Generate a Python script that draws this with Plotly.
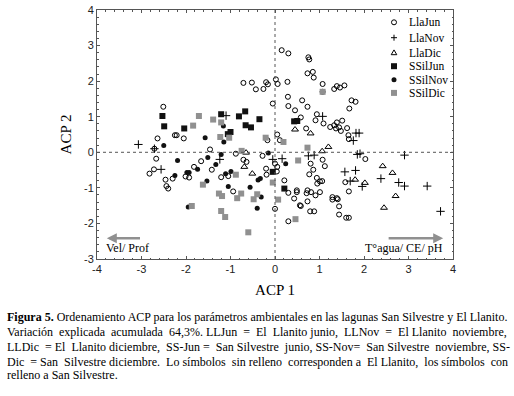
import plotly.graph_objects as go

# ---- data (ACP 1, ACP 2) ----
llajun_x = [0.15, 0.30, 0.75, 0.77, 0.73, 0.85, 0.87, -0.71, -0.52, -0.43, -0.26, -0.20, -0.16, 0.02, 0.06, 0.28,
            1.07, 1.07, 1.33, 1.39, 1.46, 1.56, -0.05, 0.29, 0.30, 0.45, 0.61, 0.73, 0.94, 0.91, 1.09, 1.24, 1.33,
            1.39, 1.37, 1.44, 1.51, 1.48, 1.62, 1.72, 1.81, 1.67, 1.65, 1.66, 0.58, 0.70, 0.05, 0.11, -0.17, -2.51,
            -2.25, -2.21, -2.05, -2.64, -2.71, -1.46, -0.88, -2.67, -1.66, -1.42, -2.72, -2.82, -2.30, -2.46, -2.44,
            -2.40, -2.01, -1.93, -1.82, -1.05, -1.21, -0.94, -0.71, -0.64, -0.28, -0.20, -0.19, 0.00, 0.05, 0.04,
            0.21, 0.30, 0.00, 0.30, 0.43, 0.49, 0.49, 0.56, 0.58, 0.71, 0.73, 0.81, 0.73, 0.79, 0.88, 0.80, 0.86,
            0.77, 0.94, 1.01, 1.06, 0.95, 1.07, 1.12, 1.29, 1.39, 1.41, 1.29, 1.44, 1.44, 1.60, 1.66, 1.58, 1.66,
            2.03, 1.01, 0.91]
llajun_y = [2.87, 2.78, 2.67, 2.61, 2.22, 2.26, 2.10, 1.95, 1.96, 1.77, 1.78, 1.97, 1.91, 2.05, 1.92, 1.98,
            1.92, 1.70, 1.78, 1.86, 1.82, 1.88, 1.37, 1.56, 1.30, 1.18, 1.46, 1.28, 1.07, 0.90, 0.81, 0.71, 0.76,
            0.84, 0.67, 0.70, 0.89, 0.60, 0.68, 1.46, 1.42, 1.23, 0.48, 0.37, 0.98, 0.67, 0.50, 0.34, 0.34, 1.28,
            0.48, 0.48, 0.39, 0.39, 0.10, 0.08, -0.04, -0.18, -0.25, -0.49, -0.48, -0.60, -0.74, -0.77, -0.95,
            -1.02, -0.68, -0.71, -0.41, -0.67, -0.70, -1.10, -0.21, -0.27, -0.10, -0.46, -0.63, -0.32, -0.41, -0.54,
            -0.79, -1.14, -1.59, -1.94, -1.30, -1.12, -1.07, -1.49, -1.51, -1.15, -1.07, -1.12, -1.38, -1.66, -1.66,
            -0.32, -0.49, -0.62, -0.72, -0.82, -0.81, -0.88, -0.21, -0.39, -1.26, -1.29, -1.32, -1.33, -1.52, -1.75,
            -1.84, -1.84, -0.84, -1.10, -0.19, -1.12, -1.21]

llanov_x = [-1.10, -3.07, -2.71, -2.56, -1.24, 1.07, 1.82, 1.89, 1.76, -0.05, 0.16, 0.75, 0.88, 1.57, 1.81,
            1.69, 1.85, 1.91, 1.96, 2.91, 2.38, 2.78, 2.91, 3.42, 3.72]
llanov_y = [1.03, 0.22, 0.10, -0.48, -0.20, 1.01, 0.54, 0.54, 0.33, -0.20, -0.18, -0.10, -0.08, -0.55, -0.51,
            -0.81, -0.06, -0.04, -0.96, -0.08, -0.74, -0.85, -0.95, -0.95, -1.66]

lladic_x = [0.45, 0.80, 1.20, 1.06, -0.65, -0.69, -0.51, 1.80, 2.02, 2.42, 2.64, 2.71, 2.45]
lladic_y = [0.64, 0.53, 0.15, 0.03, -0.01, -0.41, -0.60, -0.77, -0.86, -0.39, -0.58, -1.23, -1.56]

ssiljun_x = [-2.53, -2.49, -2.04, -1.21, -0.81, -0.67, -0.66, -0.54, -0.35, -1.00, -1.06, 0.43, 0.50, -0.05, 0.21]
ssiljun_y = [1.02, 0.73, 0.67, 1.07, 1.01, 1.15, 0.76, 0.70, 0.93, 0.57, 0.51, 0.87, 0.88, -0.55, -1.02]

ssilnov_x = [-1.16, -1.57, -1.15, -2.50, -2.19, -1.51, -1.21, -1.33, -1.74, -2.25, -1.98, -1.93, -1.53, -1.11,
             -0.99, -1.05, -1.95, -0.15, -0.38, -0.33, -0.56, -0.31, -0.40, 0.24]
ssilnov_y = [0.74, 0.41, 0.29, 0.19, -0.23, -0.15, -0.06, -0.34, -0.48, -0.65, -0.57, -0.57, -0.81, -0.60,
             -0.54, -0.96, -1.54, -0.02, -0.78, -0.74, -0.98, -1.26, -1.57, -0.32]

ssildic_x = [-1.71, -1.84, -1.39, -1.21, -1.23, -1.03, -0.21, 0.19, 0.73, 1.07, -0.75, -1.62, -0.88, -1.26,
             -1.19, -0.85, -1.87, -1.21, -1.12, -0.60, -0.76, -0.40, -0.48, -0.05, 0.07, 0.46, 0.52]
ssildic_y = [1.02, 0.75, 0.92, 0.84, 0.43, 0.41, 0.41, 0.29, 0.13, 1.70, 0.04, -0.91, -0.63, -1.16,
             -1.23, -1.29, -1.51, -1.65, -1.82, -2.25, -1.16, -1.18, -1.32, -0.85, -1.33, -1.88, -0.23]

series_names = ["LlaJun", "LlaNov", "LlaDic", "SSilJun", "SSilNov", "SSilDic"]
x_ticks = [-4, -3, -2, -1, 0, 1, 2, 3, 4]
y_ticks = [-3, -2, -1, 0, 1, 2, 3, 4]

SERIF = "Liberation Serif, Times New Roman, serif"
SANS = "Liberation Sans, Arial, sans-serif"
GRAY = "#909090"
BLACK = "#111111"
FRAME = "#555555"

# plot area at x 97..453, y 10..259 of the 514x396 page (body margin removed below)
W, H = 514, 396
ML, MR, MT, MB = 97, 61, 10, 137
PW, PH = W - ML - MR, H - MT - MB


def px(xpix):
    return (xpix - ML) / PW


def py(ypix):
    return (H - MB - ypix) / PH


fig = go.Figure()
fig.add_trace(go.Scatter(x=llajun_x, y=llajun_y, mode="markers", name=series_names[0],
                         marker=dict(symbol="circle-open", size=5, color="black", line=dict(width=1, color="black"))))
fig.add_trace(go.Scatter(x=llanov_x, y=llanov_y, mode="markers", name=series_names[1],
                         marker=dict(symbol="cross-thin-open", size=6, color="black", line=dict(width=1, color="black"))))
fig.add_trace(go.Scatter(x=lladic_x, y=lladic_y, mode="markers", name=series_names[2],
                         marker=dict(symbol="triangle-up-open", size=6, color="black", line=dict(width=1, color="black"))))
fig.add_trace(go.Scatter(x=ssiljun_x, y=ssiljun_y, mode="markers", name=series_names[3],
                         marker=dict(symbol="square", size=6, color=BLACK, line=dict(width=0))))
fig.add_trace(go.Scatter(x=ssilnov_x, y=ssilnov_y, mode="markers", name=series_names[4],
                         marker=dict(symbol="circle", size=5, color=BLACK, line=dict(width=0))))
fig.add_trace(go.Scatter(x=ssildic_x, y=ssildic_y, mode="markers", name=series_names[5],
                         marker=dict(symbol="square", size=6, color=GRAY, line=dict(width=0))))

# dashed reference lines at 0
fig.add_shape(type="line", xref="x", yref="paper", x0=0, x1=0, y0=0, y1=1,
              line=dict(color="#555555", width=1, dash="dot"))
fig.add_shape(type="line", xref="paper", yref="y", x0=0, x1=1, y0=0, y1=0,
              line=dict(color="#555555", width=1, dash="dot"))

# legend (compact, drawn as key shapes + text)
leg_rows = [22.3, 37.7, 52.7, 66.2, 79.7, 92.9]
sym_x = px(394)
for name, ry in zip(series_names, leg_rows):
    yy = py(ry)
    common = dict(xref="paper", yref="paper", xsizemode="pixel", ysizemode="pixel", xanchor=sym_x, yanchor=yy)
    if name == "LlaJun":
        fig.add_shape(type="circle", x0=-2.5, x1=2.5, y0=-2.5, y1=2.5, line=dict(color="black", width=1), **common)
    elif name == "LlaNov":
        fig.add_shape(type="path", path="M -3 0 L 3 0 M 0 -3 L 0 3", line=dict(color="black", width=1), **common)
    elif name == "LlaDic":
        fig.add_shape(type="path", path="M -2.8 -2 L 2.8 -2 L 0 2.8 Z", line=dict(color="black", width=1), **common)
    elif name == "SSilJun":
        fig.add_shape(type="rect", x0=-3, x1=3, y0=-3, y1=3, fillcolor=BLACK, line=dict(width=0), **common)
    elif name == "SSilNov":
        fig.add_shape(type="circle", x0=-2.5, x1=2.5, y0=-2.5, y1=2.5, fillcolor=BLACK, line=dict(width=0), **common)
    else:
        fig.add_shape(type="rect", x0=-3, x1=3, y0=-3, y1=3, fillcolor=GRAY, line=dict(width=0), **common)
    fig.add_annotation(xref="paper", yref="paper", x=px(407), y=yy, text=name, showarrow=False,
                       xanchor="left", yanchor="middle", font=dict(family=SERIF, size=11.5, color="black"))

# gradient arrows
fig.add_annotation(x=-3.78, y=-2.42, ax=-3.0, ay=-2.42, xref="x", yref="y", axref="x", ayref="y",
                   showarrow=True, arrowhead=2, arrowsize=0.8, arrowwidth=2.5, arrowcolor=GRAY, text="")
fig.add_annotation(x=3.78, y=-2.42, ax=2.52, ay=-2.42, xref="x", yref="y", axref="x", ayref="y",
                   showarrow=True, arrowhead=2, arrowsize=0.8, arrowwidth=2.5, arrowcolor=GRAY, text="")
fig.add_annotation(x=-3.85, y=-2.69, xref="x", yref="y", text="Vel/ Prof", showarrow=False,
                   xanchor="left", yanchor="middle", font=dict(family=SERIF, size=12, color="black"))
fig.add_annotation(x=3.82, y=-2.69, xref="x", yref="y", text="T°agua/ CE/ pH", showarrow=False,
                   xanchor="right", yanchor="middle", font=dict(family=SERIF, size=12, color="black"))


# caption (justified lines padded with extra non-breaking spaces)
def pad(text, use_extra):
    words = text.split(" ")
    out = words[0]
    for i, w in enumerate(words[1:]):
        out += (" \u00a0" if use_extra(i) else " ") + w
    return out


caption = [
    "<b>Figura 5.</b> Ordenamiento ACP para los parámetros ambientales en las lagunas San Silvestre y El Llanito.",
    pad("Variación explicada acumulada 64,3%. LLJun = El Llanito junio, LLNov = El Llanito noviembre,",
        lambda i: i % 4 != 3),
    pad("LLDic = El Llanito diciembre, SS-Jun = San Silvestre junio, SS-Nov= San Silvestre noviembre, SS-",
        lambda i: i % 2 == 0),
    pad("Dic = San Silvestre diciembre. Lo símbolos sin relleno corresponden a El Llanito, los símbolos con",
        lambda i: i % 2 == 0),
    "relleno a San Silvestre.",
]
cap_y = [316.7, 331.7, 346.5, 361.5, 375.0]
for line, cy in zip(caption, cap_y):
    fig.add_annotation(xref="paper", yref="paper", x=px(5), y=py(cy),
                       text=line, showarrow=False, xanchor="left", yanchor="middle",
                       font=dict(family=SERIF, size=12, color="black"))

axis_common = dict(showline=True, linecolor=FRAME, linewidth=1, mirror="allticks", ticks="inside",
                   ticklen=3, tickcolor=FRAME, showgrid=False, zeroline=False, automargin=False,
                   minor=dict(dtick=0.2, ticks="inside", ticklen=1.5, tickcolor=FRAME, showgrid=False),
                   tickfont=dict(family=SANS, size=11, color="#222222"))

fig.update_layout(
    width=W, height=H,
    margin=dict(l=ML, r=MR, t=MT, b=MB),
    paper_bgcolor="white", plot_bgcolor="white",
    xaxis=dict(range=[-4, 4], tickvals=x_ticks, ticktext=[str(v) for v in x_ticks],
               title=dict(text="ACP 1", font=dict(family=SERIF, size=15, color="black"), standoff=10),
               **axis_common),
    yaxis=dict(range=[-3, 4], tickvals=y_ticks, ticktext=[str(v) for v in y_ticks],
               title=dict(text="ACP 2", font=dict(family=SERIF, size=15, color="black"), standoff=8),
               **axis_common),
    showlegend=False,
)

fig.write_html("out.html", config={"displayModeBar": False},
               post_script="document.body.style.margin='0px';")
